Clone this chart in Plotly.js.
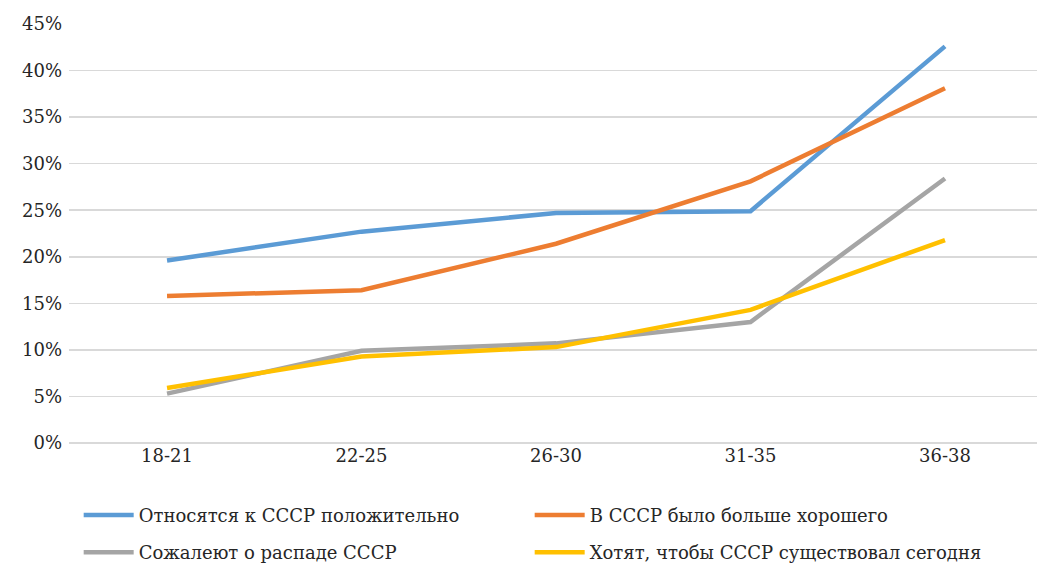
<!DOCTYPE html>
<html>
<head>
<meta charset="utf-8">
<script src="https://cdn.plot.ly/plotly-3.0.1.min.js"></script>
<style>html,body{margin:0;padding:0;background:#fff;}#chart{width:1037px;height:564px;}</style>
</head>
<body>
<div id="chart"></div>
<script>
const categories = ["18-21", "22-25", "26-30", "31-35", "36-38"];
const seriesNames = ["Относятся к СССР положительно", "В СССР было больше хорошего", "Сожалеют о распаде СССР", "Хотят, чтобы СССР существовал сегодня"];
const positive = [0.196, 0.227, 0.247, 0.249, 0.426];
const moreGood = [0.158, 0.164, 0.214, 0.281, 0.381];
const regret = [0.053, 0.099, 0.107, 0.130, 0.284];
const wantToday = [0.059, 0.093, 0.103, 0.143, 0.218];
const colors = ["#5B9BD5", "#ED7D31", "#A5A5A5", "#FFC000"];

const allValues = [positive, moreGood, regret, wantToday];
const traces = allValues.map((vals, i) => ({
  x: categories, y: vals, name: seriesNames[i], type: "scatter", mode: "lines",
  line: {color: colors[i], width: 4.5},
  legend: i < 2 ? "legend" : "legend2"
}));

const FONT = "DejaVu Serif";
const legendBase = {orientation: "h", x: 0.01, xref: "paper", yref: "container", yanchor: "top", xanchor: "left",
  entrywidth: 386, entrywidthmode: "pixels", traceorder: "normal", itemwidth: 50,
  font: {family: FONT, size: 18, color: "#262626"}};
const layout = {
  width: 1037, height: 564,
  margin: {l: 69, r: 0, t: 24, b: 121},
  paper_bgcolor: "#fff", plot_bgcolor: "#fff",
  font: {family: FONT, size: 18, color: "#262626"},
  showlegend: true,
  legend: Object.assign({}, legendBase, {y: 0.119}),
  legend2: Object.assign({}, legendBase, {y: 0.053}),
  xaxis: {type: "category", showgrid: false, zeroline: false, showline: false,
    ticks: "", tickfont: {family: FONT, size: 18}, range: [-0.504, 4.473]},
  yaxis: {range: [0, 0.45], dtick: 0.05, tickformat: ".0%", showgrid: true,
    gridcolor: "#D9D9D9", gridwidth: 1.5, zeroline: true, zerolinecolor: "#D9D9D9", zerolinewidth: 1.5,
    showline: false, ticks: "", ticklabelstandoff: 6, tickfont: {family: FONT, size: 18}, fixedrange: true}
};

Plotly.newPlot("chart", traces, layout, {displayModeBar: false, staticPlot: true});
</script>
</body>
</html>
